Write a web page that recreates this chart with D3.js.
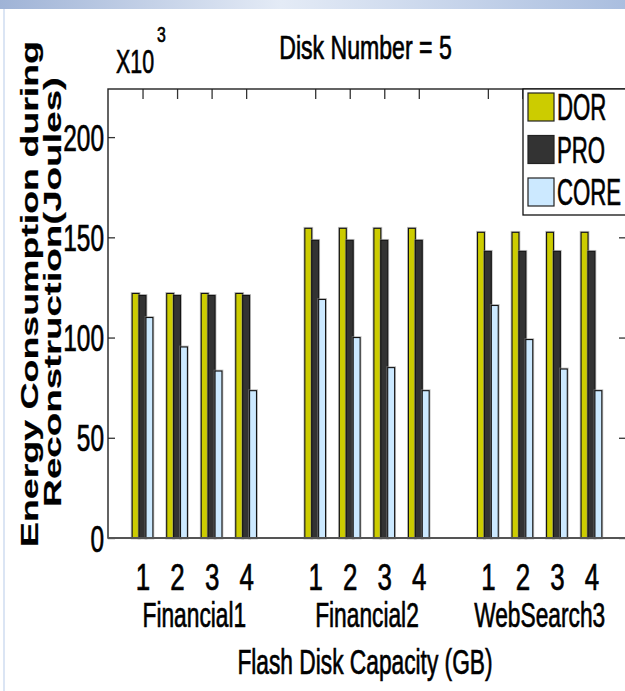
<!DOCTYPE html>
<html>
<head>
<meta charset="utf-8">
<script src="https://cdn.jsdelivr.net/npm/d3@7/dist/d3.min.js"></script>
<style>
  html, body { margin: 0; padding: 0; background: #fff; }
  svg { display: block; }
  text { font-family: "Liberation Sans", Arial, Helvetica, sans-serif; fill: #000; stroke: #000; stroke-width: 0.7px; }
</style>
</head>
<body>
<div id="chart"></div>
<script>
// Workloads, flash capacities (GB) and schemes
const groups = ["Financial1", "Financial2", "WebSearch3"];
const capacities = ["1", "2", "3", "4"];
const seriesNames = ["DOR", "PRO", "CORE"];
const seriesColors = ["#cccc00", "#333333", "#cce9ff"];

// Energy consumption during reconstruction (x10^3 Joules), one value per workload/capacity
const dorValues  = [122, 122, 122, 122,   154.5, 154.5, 154.5, 154.5,   152.5, 152.5, 152.5, 152.5];
const proValues  = [121, 121, 121, 121,   148.5, 148.5, 148.5, 148.5,   143, 143, 143, 143];
const coreValues = [110, 95.3, 83.3, 73.5,   119, 100, 85, 73.5,   116, 99, 84.3, 73.5];

const yTicks = [0, 50, 100, 150, 200];

const W = 625, H = 691;
const plot = { left: 108, right: 626, top: 89, bottom: 538 };
const FONT = "\"Liberation Sans\", Arial, sans-serif";

const svg = d3.select("#chart").append("svg")
  .attr("width", W).attr("height", H);

// faint slide frame at the top and left edge
const defs = svg.append("defs");
const grad = defs.append("linearGradient").attr("id", "topband");
grad.append("stop").attr("offset", "0%").attr("stop-color", "#9fb3d6");
grad.append("stop").attr("offset", "45%").attr("stop-color", "#e4ebf6");
grad.append("stop").attr("offset", "100%").attr("stop-color", "#aabedf");
svg.append("rect").attr("x", 0).attr("y", 0).attr("width", W).attr("height", 9)
  .attr("fill", "url(#topband)");
svg.append("rect").attr("x", 3).attr("y", 9).attr("width", 2).attr("height", H - 9)
  .attr("fill", "#dbe5f4");

// text helper: condensed glyphs via horizontal scaling
function label(parent, str, x, y, opt) {
  const o = Object.assign({ size: 34, sx: 0.68, anchor: "middle", weight: "normal", rotate: 0 }, opt || {});
  return parent.append("text")
    .attr("transform", `translate(${x},${y}) scale(${o.sx},1)` + (o.rotate ? ` rotate(${o.rotate})` : ""))
    .attr("text-anchor", o.anchor)
    .style("font-size", o.size + "px")
    .style("font-weight", o.weight)
    .text(str);
}

// scales
const x = d3.scaleLinear().domain([0, 15]).range([plot.left, plot.right]);
const y = d3.scaleLinear().domain([0, 224]).range([plot.bottom, plot.top]);

// slot position for each workload/capacity (an empty slot separates workloads)
const positions = [];
groups.forEach((g, gi) => capacities.forEach((c, ci) => positions.push(gi * 5 + ci + 1)));
const seriesValues = [dorValues, proValues, coreValues];
const barOffset = [-0.2, 0, 0.2];
const barWidth = 0.2;

const capTickFormat = d3.scaleOrdinal().domain(positions).range(positions.map((p, i) => capacities[i % 4]));

// axes (ticks point inward)
const gBottom = svg.append("g").attr("transform", `translate(0,${plot.bottom})`)
  .call(d3.axisBottom(x).tickValues(positions).tickFormat(d => capTickFormat(d)).tickSize(-10).tickPadding(0));
gBottom.select(".domain").remove();
gBottom.selectAll("line").attr("stroke", "#333");
gBottom.selectAll("text")
  .attr("y", null).attr("dy", null)
  .attr("transform", "translate(0,52) scale(0.7,1)")
  .style("font-size", "37px").style("font-family", FONT).attr("fill", "#000");

const gTop = svg.append("g").attr("transform", `translate(0,${plot.top})`)
  .call(d3.axisTop(x).tickValues(positions).tickFormat("").tickSize(-10));
gTop.select(".domain").remove();
gTop.selectAll("line").attr("stroke", "#333").attr("stroke-width", 1.3);

const gLeft = svg.append("g").attr("transform", `translate(${plot.left},0)`)
  .call(d3.axisLeft(y).tickValues(yTicks).tickSize(-7).tickPadding(0));
gLeft.select(".domain").remove();
gLeft.selectAll("line").attr("stroke", "#333").attr("stroke-width", 1.3);
gLeft.selectAll("text")
  .attr("x", null).attr("dy", null)
  .attr("transform", "translate(-4,13) scale(0.66,1)")
  .attr("text-anchor", "end")
  .style("font-size", "37px").style("font-family", FONT).attr("fill", "#000");

const gRight = svg.append("g").attr("transform", `translate(${plot.right},0)`)
  .call(d3.axisRight(y).tickValues(yTicks).tickFormat("").tickSize(-7));
gRight.select(".domain").remove();
gRight.selectAll("line").attr("stroke", "#333").attr("stroke-width", 1.3);

// bars
const bars = svg.append("g");
seriesValues.forEach((vals, si) => {
  const data = vals.map((v, i) => ({ pos: positions[i], v }));
  const x0 = d => x(d.pos + barOffset[si] - barWidth / 2);
  const bw = x(barWidth) - x(0);
  // soft grey halo round each bar
  bars.selectAll(null).data(data).enter().append("rect")
    .attr("x", x0).attr("y", d => y(d.v))
    .attr("width", bw).attr("height", d => y(0) - y(d.v))
    .attr("fill", "none").attr("stroke", "#8a8a8a").attr("stroke-opacity", 0.55).attr("stroke-width", 2.8);
  bars.selectAll(null).data(data).enter().append("rect")
    .attr("x", x0).attr("y", d => y(d.v))
    .attr("width", bw).attr("height", d => y(0) - y(d.v))
    .attr("fill", seriesColors[si]).attr("stroke", "#141414").attr("stroke-width", 1.1);
});

// plot frame
svg.append("rect")
  .attr("x", plot.left).attr("y", plot.top)
  .attr("width", plot.right - plot.left).attr("height", plot.bottom - plot.top)
  .attr("fill", "none").attr("stroke", "#222").attr("stroke-width", 1.4);
svg.append("line")
  .attr("x1", plot.left).attr("x2", plot.right).attr("y1", plot.bottom).attr("y2", plot.bottom)
  .attr("stroke", "#555").attr("stroke-width", 2.2);

// legend
const legend = svg.append("g");
legend.append("rect").attr("x", 523).attr("y", plot.top).attr("width", 140).attr("height", 126)
  .attr("fill", "#fff").attr("stroke", "#111").attr("stroke-width", 1.3);
seriesNames.forEach((name, i) => {
  const top = 93 + i * 42.5;
  legend.append("rect").attr("x", 528).attr("y", top).attr("width", 26).attr("height", 28)
    .attr("fill", seriesColors[i]).attr("stroke", "#222").attr("stroke-width", 1.2);
  label(legend, name, 557, top + 27, { size: 37, sx: 0.6, anchor: "start" });
});

// titles
label(svg, "Disk Number = 5", 365.5, 59, { size: 33, sx: 0.7 });
label(svg, "X10", 116, 73, { size: 34, sx: 0.63, anchor: "start" });
label(svg, "3", 157, 42, { size: 22, sx: 0.72, anchor: "start" });

// workload names under each group of capacities
groups.forEach((g, gi) => {
  const cx = (x(gi * 5 + 1) + x(gi * 5 + 4)) / 2;
  label(svg, g, cx, 627, { size: 35, sx: 0.65 });
});

label(svg, "Flash Disk Capacity (GB)", 365, 674, { size: 35, sx: 0.65 });

// y axis title, two lines
label(svg, "Energy Consumption during", 38, 294, { size: 37.5, sx: 0.62, weight: "bold", rotate: -90 })
  .style("stroke-width", "0.3px");
label(svg, "Reconstruction(Joules)", 61, 292, { size: 38.5, sx: 0.62, weight: "bold", rotate: -90 })
  .style("stroke-width", "0.3px");
</script>
</body>
</html>
